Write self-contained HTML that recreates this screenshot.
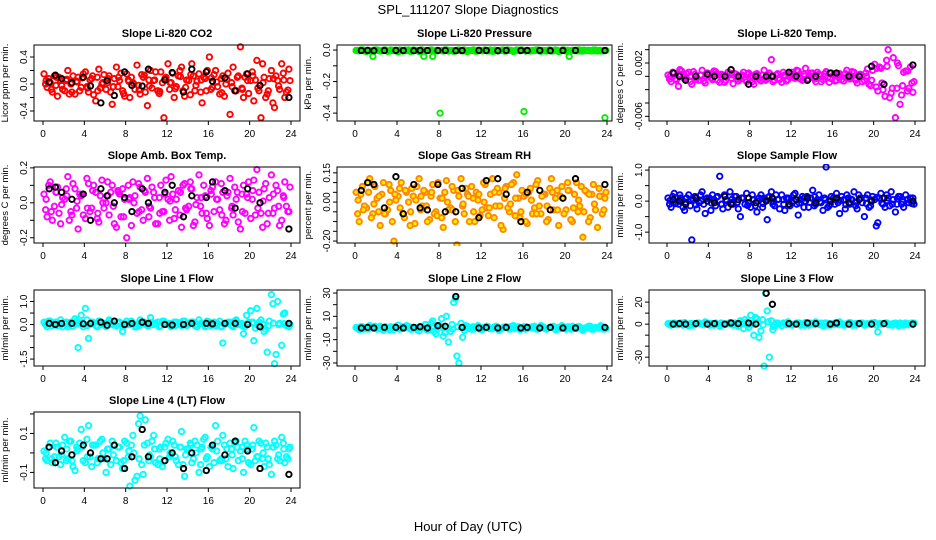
<!DOCTYPE html>
<html><head><meta charset="utf-8">
<style>
html,body{margin:0;padding:0;background:#fff;}
svg{display:block;font-family:"Liberation Sans",Arial,sans-serif;}
</style></head>
<body>
<svg id="chart" width="936" height="540" viewBox="0 0 936 540" xmlns="http://www.w3.org/2000/svg">
<text x="468" y="14" font-size="13" text-anchor="middle">SPL_111207  Slope Diagnostics</text>
<text x="468" y="531" font-size="13" text-anchor="middle">Hour of Day (UTC)</text>
</svg>
<script>
const xTicks = [0,4,8,12,16,20,24];
const hoursC = [0.1,0.4,0.7,1.1,1.4,1.7,2.1,2.4,2.7,3.1,3.4,3.7,4.1,4.4,4.7,5.1,5.4,5.7,6.1,6.4,6.7,7.1,7.4,7.7,8.1,8.4,8.7,9.1,9.4,9.7,10.1,10.4,10.7,11.1,11.4,11.7,12.1,12.4,12.7,13.1,13.4,13.7,14.1,14.4,14.7,15.1,15.4,15.7,16.1,16.4,16.7,17.1,17.4,17.7,18.1,18.4,18.7,19.1,19.4,19.7,20.1,20.4,20.7,21.1,21.4,21.7,22.1,22.4,22.7,23.1,23.4,23.8];
const hoursC2 = [0.25,0.55,0.9,1.25,1.55,1.9,2.25,2.55,2.9,3.25,3.55,3.9,4.25,4.55,4.9,5.25,5.55,5.9,6.25,6.55,6.9,7.25,7.55,7.9,8.25,8.55,8.9,9.25,9.55,9.9,10.25,10.55,10.9,11.25,11.55,11.9,12.25,12.55,12.9,13.25,13.55,13.9,14.25,14.55,14.9,15.25,15.55,15.9,16.25,16.55,16.9,17.25,17.55,17.9,18.25,18.55,18.9,19.25,19.55,19.9,20.25,20.55,20.9,21.25,21.55,21.9,22.25,22.55,22.9,23.25,23.55,23.9];
const hoursC3 = [0.3,0.8,1.3,1.8,2.3,2.8,3.3,3.8,4.3,4.8,5.3,5.8,6.3,6.8,7.3,7.8,8.3,8.8,9.3,9.8,10.3,10.8,11.3,11.8,12.3,12.8,13.3,13.8,14.3,14.8,15.3,15.8,16.3,16.8,17.3,17.8,18.3,18.8,19.3,19.8,20.3,20.8,21.3,21.8,22.3,22.8,23.3,23.7];
const hoursK = [0.6,1.2,1.8,2.8,3.9,4.6,5.6,6.2,6.9,7.9,8.6,9.6,10.2,11.8,12.5,13.6,14.4,15.8,16.4,17.6,18.6,19.8,21.0,23.8];

const co2C = [0.15,-0.05,0.02,0.12,-0.18,0.05,-0.1,0.2,0.0,-0.15,0.1,-0.05,0.18,-0.12,0.08,-0.25,0.22,0.0,-0.08,0.12,-0.3,0.25,0.05,-0.1,0.15,-0.2,0.02,0.28,-0.15,0.1,-0.32,0.2,0.05,-0.1,0.18,-0.5,0.3,0.02,-0.2,0.12,0.25,-0.18,0.05,0.3,-0.1,0.15,-0.28,0.08,0.4,-0.05,0.2,-0.15,0.12,0.0,-0.45,0.25,-0.1,0.55,-0.2,0.15,0.05,-0.25,0.35,-0.5,0.1,-0.15,0.2,-0.35,0.05,0.3,-0.2,0.22];
const co2C2 = [0.0,0.08,-0.12,-0.02,0.1,-0.08,0.05,-0.15,0.12,0.04,-0.1,0.15,-0.04,0.06,-0.16,0.1,-0.06,0.14,0.02,-0.12,0.08,-0.04,0.16,-0.18,0.06,0.1,-0.08,-0.02,0.14,-0.12,0.06,-0.06,0.18,-0.14,0.02,0.1,-0.08,0.16,-0.04,0.2,-0.1,0.06,-0.16,0.12,0.04,-0.12,0.1,0.2,-0.08,0.14,-0.04,0.08,-0.18,0.16,0.02,-0.1,0.12,-0.06,0.1,-0.14,0.18,0.06,-0.1,0.3,-0.2,0.08,-0.28,0.12,-0.08,0.16,-0.12,0.05];
const co2C3 = [0.05,-0.08,0.1,-0.02,0.07,-0.12,0.03,0.09,-0.06,0.12,-0.1,0.02,0.08,-0.04,0.1,-0.14,0.04,0.0,-0.09,0.13,-0.03,0.06,-0.11,0.08,0.02,-0.07,0.11,-0.05,0.14,-0.02,0.06,-0.1,0.09,0.03,-0.13,0.07,-0.04,0.1,-0.08,0.05,0.12,-0.06,0.02,-0.1,0.08,-0.03,0.06,-0.09];
const co2K = [0.03,0.13,0.08,0.02,0.1,-0.03,-0.28,0.05,-0.17,0.18,-0.02,-0.03,0.22,0.06,0.17,-0.12,0.22,0.18,0.04,0.09,-0.1,0.15,-0.02,-0.2];

const presC = [-0.002,-0.005,0,-0.01,-0.003,-0.04,0,-0.006,-0.002,-0.008,0,-0.004,-0.012,-0.002,-0.005,0,-0.007,-0.003,-0.01,0,-0.005,-0.002,-0.04,-0.004,-0.40,-0.006,0,-0.003,-0.008,-0.002,-0.005,0,-0.01,-0.003,-0.006,-0.002,-0.005,0,-0.004,-0.008,-0.002,-0.005,0,-0.006,-0.003,-0.009,0,-0.004,-0.39,-0.002,-0.006,-0.003,0,-0.008,-0.004,-0.002,-0.005,0,-0.01,-0.003,-0.006,-0.04,-0.002,-0.005,0,-0.007,-0.003,-0.005,0,-0.006,-0.004,-0.43];
const presC2 = [-0.004,0,-0.006,-0.002,-0.008,0,-0.003,-0.005,0,-0.007,-0.002,-0.004,0,-0.006,-0.003,-0.008,0,-0.002,-0.005,-0.04,-0.003,0,-0.006,-0.002,-0.004,0,-0.007,-0.003,-0.005,0,-0.002,-0.006,-0.004,0,-0.008,-0.003,-0.002,-0.005,0,-0.006,-0.004,-0.002,-0.007,0,-0.003,-0.005,-0.002,0,-0.006,-0.004,-0.003,0,-0.005,-0.002,-0.007,0,-0.004,-0.003,-0.006,0,-0.002,-0.005,-0.004,0,-0.006,-0.003,-0.002,-0.005,0,-0.004,-0.006,-0.002];
const presC3 = [-0.003,-0.001,-0.005,-0.002,-0.004,0,-0.006,-0.002,-0.003,-0.001,-0.005,-0.003,-0.002,-0.004,0,-0.006,-0.003,-0.001,-0.004,-0.002,-0.005,-0.003,0,-0.004,-0.002,-0.006,-0.001,-0.003,-0.005,-0.002,-0.004,0,-0.003,-0.005,-0.001,-0.004,-0.002,-0.006,-0.003,0,-0.004,-0.002,-0.005,-0.001,-0.003,-0.004,-0.002,-0.005];
const presK = [-0.003,-0.002,-0.004,-0.003,-0.002,-0.003,-0.004,-0.002,-0.003,-0.003,-0.002,-0.004,-0.003,-0.002,-0.003,-0.004,-0.002,-0.003,-0.003,-0.002,-0.004,-0.003,-0.002,-0.003];

const tempC = [0.0002,-0.0008,0.0005,-0.0015,0.0008,-0.0004,0.0006,-0.0012,0.0003,-0.0006,0.0009,-0.001,0.0004,-0.0005,0.0007,-0.0009,0.0002,-0.0006,0.0005,-0.0011,0.0003,-0.0004,0.0006,-0.0008,0.0001,-0.0012,0.0004,-0.0007,0.0009,-0.0003,0.0025,-0.0006,0.0004,-0.0009,0.0002,-0.0005,0.0006,-0.0003,0.0008,-0.0006,0.0012,-0.0004,0.0005,-0.0008,0.0003,-0.0005,0.0007,-0.0009,0.0002,-0.0006,0.0004,-0.0007,0.0009,-0.0004,0.0006,-0.001,0.0003,-0.0006,0.0011,-0.0014,0.0018,-0.0022,0.0012,-0.003,0.004,-0.0025,-0.0062,0.0016,-0.0028,0.0008,-0.0018,-0.0024];
const tempC2 = [-0.0004,0.0006,-0.0006,0.001,-0.0002,0.0004,-0.0008,0.0007,-0.0003,0.0002,-0.0007,0.0005,-0.0002,0.0008,-0.0006,0.0003,-0.0009,0.0006,-0.0003,0.0004,-0.0007,0.0002,-0.0005,0.0005,-0.0008,0.0003,-0.0004,0.0002,-0.0006,0.0005,-0.0008,0.0002,-0.0005,0.0006,-0.0007,0.0004,-0.0002,0.0009,-0.0004,0.0003,-0.0006,0.0005,-0.0003,0.0006,-0.0008,0.0004,-0.0002,0.0005,-0.0007,0.0003,-0.0005,0.0004,-0.0003,0.0007,-0.0006,0.0002,-0.0008,0.0005,-0.0012,0.0009,-0.0016,0.0014,-0.002,0.0024,-0.0032,0.0028,-0.0018,-0.0042,0.0006,-0.0022,0.0014,-0.0008];
const tempC3 = [0.0,-0.0004,0.0003,-0.0002,0.0001,-0.0005,0.0002,0.0,-0.0003,0.0004,-0.0001,0.0,0.0002,-0.0004,0.0001,0.0003,-0.0002,0.0,-0.0005,0.0002,0.0,-0.0003,0.0001,0.0,0.0003,-0.0002,0.0,0.0001,-0.0004,0.0002,0.0,-0.0003,0.0003,0.0,-0.0002,0.0001,-0.0004,0.0002,0.0,-0.0006,0.0012,-0.001,0.0015,-0.0018,0.002,-0.0014,0.0008,-0.001];
const tempK = [0.0005,0.0,-0.0006,0.0,0.0003,0.0,0.0,0.001,0.0,-0.0012,0.0,0.0,0.0,0.0006,0.0,-0.0006,0.0,0.0005,0.0005,0.0,0.0,0.0015,-0.0012,0.0017];

const ambC = [0.05,-0.08,0.12,-0.02,0.09,-0.12,0.02,0.15,-0.05,0.08,-0.15,0.04,-0.09,0.11,-0.03,0.06,-0.11,0.13,0.0,-0.07,0.1,-0.14,0.05,0.08,-0.2,0.03,0.12,-0.06,0.09,-0.1,0.14,-0.03,0.06,-0.12,0.1,-0.05,0.02,0.15,-0.09,0.07,-0.14,0.11,-0.02,0.08,-0.11,0.16,-0.06,0.04,-0.13,0.09,0.12,-0.04,0.06,-0.1,0.14,-0.07,0.02,-0.15,0.1,0.05,-0.09,0.13,0.19,-0.06,0.08,-0.12,0.16,-0.03,0.07,-0.1,0.12,-0.05];
const ambC2 = [-0.04,0.1,-0.1,0.06,-0.06,0.03,0.08,-0.1,0.11,-0.03,0.05,-0.07,0.14,-0.05,0.1,-0.09,0.04,-0.03,0.12,0.06,-0.12,0.07,-0.08,0.02,0.1,-0.13,0.04,0.11,-0.04,0.06,-0.08,0.09,-0.12,0.03,-0.05,0.13,-0.1,0.05,0.02,-0.07,0.1,-0.04,0.12,-0.13,0.03,-0.02,0.1,-0.09,0.07,-0.05,0.02,0.11,-0.12,0.06,-0.03,0.09,-0.11,0.05,-0.06,0.12,0.02,-0.07,0.06,-0.14,0.11,0.03,-0.06,0.1,-0.13,0.04,-0.02,0.09];
const ambC3 = [0.02,-0.05,0.06,-0.01,0.04,-0.07,0.01,0.05,-0.03,0.07,-0.06,0.0,0.04,-0.02,0.06,-0.08,0.02,0.0,-0.05,0.07,-0.02,0.03,-0.06,0.05,0.01,-0.04,0.06,-0.03,0.08,-0.01,0.03,-0.06,0.05,0.02,-0.07,0.04,-0.02,0.06,-0.05,0.03,0.07,-0.03,0.01,-0.06,0.05,-0.02,0.03,-0.05];
const ambK = [0.08,0.09,0.06,0.02,0.05,-0.1,0.08,0.04,0.0,0.03,-0.05,0.08,0.0,0.06,0.1,-0.08,0.04,0.03,0.12,0.07,-0.03,0.08,0.0,-0.15];

const rhC = [0.05,-0.1,0.08,-0.03,0.12,-0.06,0.02,-0.12,0.1,-0.04,0.06,-0.2,0.03,0.1,-0.08,0.0,0.07,-0.11,0.12,-0.02,0.05,-0.09,0.09,-0.05,0.02,-0.13,0.11,-0.03,0.06,-0.22,0.12,-0.06,0.04,0.08,-0.1,0.01,-0.04,0.09,-0.07,0.12,-0.02,0.05,-0.14,0.08,-0.05,0.1,0.14,-0.08,0.03,-0.11,0.07,-0.03,0.11,-0.06,0.04,-0.09,0.12,0.02,-0.12,0.08,-0.04,0.06,-0.1,0.1,-0.02,-0.18,0.05,-0.08,0.09,-0.13,0.03,0.02];
const rhC2 = [-0.06,0.04,-0.02,0.1,-0.08,0.08,-0.05,0.04,-0.06,0.09,-0.1,0.01,0.07,-0.06,0.05,-0.12,0.03,0.08,-0.04,0.06,-0.1,0.03,-0.06,0.1,-0.08,0.05,-0.04,0.08,-0.1,0.03,-0.02,0.07,-0.1,0.02,0.05,-0.07,0.1,-0.03,0.04,-0.08,0.07,-0.12,0.02,-0.03,0.09,-0.07,0.02,0.06,-0.1,0.05,-0.06,0.09,-0.02,0.04,-0.1,0.07,-0.04,0.06,0.03,-0.06,0.1,-0.09,0.04,-0.05,0.08,0.06,-0.1,0.04,-0.04,0.07,-0.06,0.05];
const rhC3 = [0.01,-0.04,0.05,-0.01,0.03,-0.06,0.0,0.04,-0.03,0.06,-0.05,0.01,0.03,-0.02,0.05,-0.07,0.02,0.0,-0.04,0.06,-0.01,0.03,-0.05,0.04,0.0,-0.03,0.05,-0.02,0.07,-0.01,0.02,-0.05,0.04,0.01,-0.06,0.03,-0.02,0.05,-0.04,0.02,0.06,-0.03,0.01,-0.05,0.04,-0.01,0.03,-0.04];
const rhK = [0.06,0.1,0.09,-0.03,0.13,-0.06,0.09,-0.03,-0.04,0.09,-0.05,-0.05,0.07,-0.08,0.11,0.12,0.04,-0.1,0.05,0.06,-0.04,0.02,0.12,0.09];

const flowC = [0.1,-0.2,0.25,-0.1,0.05,-0.3,0.2,-1.25,0.15,-0.05,0.3,-0.4,0.1,0.2,-0.15,0.8,-0.25,0.05,0.3,-0.1,0.15,-0.5,0.1,0.25,-0.2,0.05,-0.35,0.2,0.1,-0.6,0.3,-0.15,0.05,0.2,-0.3,0.1,-0.05,0.25,-0.45,0.15,0.0,-0.2,0.35,-0.1,0.2,-0.3,1.1,-0.15,0.1,0.25,-0.4,0.05,0.2,-0.1,0.3,-0.25,0.1,-0.5,0.2,-0.15,0.05,-0.7,0.25,-0.2,0.1,0.3,-0.35,0.15,-0.1,0.2,-0.05,0.1];
const flowC2 = [-0.1,0.15,-0.05,0.2,-0.2,0.1,-0.15,0.05,-0.25,0.2,-0.1,0.1,-0.3,0.05,0.15,-0.1,0.2,-0.2,-0.05,0.15,-0.25,0.1,-0.1,-0.05,0.2,-0.15,0.1,-0.2,0.05,0.15,-0.1,0.2,-0.25,0.05,0.1,-0.15,0.2,-0.1,0.05,-0.2,0.15,0.1,-0.15,0.05,-0.05,0.1,-0.2,0.15,-0.1,-0.05,0.15,-0.25,0.1,0.05,-0.15,0.2,-0.05,0.1,-0.2,0.15,-0.8,0.1,-0.1,0.2,-0.15,0.05,-0.1,0.15,-0.2,0.05,0.1,-0.1];
const flowC3 = [0.02,-0.08,0.1,-0.03,0.06,-0.12,0.0,0.08,-0.06,0.12,-0.1,0.02,0.06,-0.04,0.1,-0.14,0.04,0.0,-0.08,0.12,-0.02,0.06,-0.1,0.08,0.0,-0.06,0.1,-0.04,0.14,-0.02,0.04,-0.1,0.08,0.02,-0.12,0.06,-0.04,0.1,-0.08,0.04,0.12,-0.06,0.02,-0.1,0.08,-0.02,0.06,-0.08];
const flowK = [0.05,0.0,-0.1,0.1,0.0,-0.05,0.15,-0.1,0.05,0.1,-0.05,0.0,0.1,-0.1,0.05,0.1,-0.05,0.0,0.1,-0.05,0.05,0.0,0.1,0.0];

const line1C = [0.1,-0.1,0.15,0.0,-0.05,0.2,0.05,-0.1,0.1,0.25,-1.0,0.4,0.7,-0.6,0.1,-0.05,0.15,0.0,-0.1,0.2,0.05,-0.05,0.1,-0.3,0.15,0.0,0.05,-0.1,0.2,0.05,-0.05,0.3,0.0,0.1,-0.05,0.15,0.0,-0.1,0.1,0.05,-0.05,0.15,0.0,0.1,-0.05,0.2,0.05,-0.1,0.1,0.0,-0.05,0.15,-0.8,0.05,0.1,-0.1,0.2,0.0,-0.4,0.4,0.6,-0.7,0.7,0.2,-0.3,-1.2,1.3,-1.7,1.0,-0.9,0.5,-0.1];
const line1C2 = [0.0,0.15,-0.05,0.1,0.05,-0.1,0.1,0.0,-0.05,0.15,0.05,-0.1,0.2,0.0,0.05,-0.1,0.1,0.05,-0.05,0.15,0.0,0.1,-0.05,0.05,0.0,0.15,-0.1,0.05,0.1,0.0,-0.05,0.1,0.05,-0.1,0.15,0.0,0.05,-0.05,0.1,0.0,0.15,-0.05,0.05,0.1,-0.1,0.05,0.0,0.15,-0.05,0.1,0.05,-0.1,0.0,0.1,-0.05,0.15,0.0,0.05,-0.1,0.1,0.05,-0.15,0.1,0.0,-0.2,0.15,0.9,-1.3,0.05,0.45,-0.05,0.0];
const line1C3 = [0.05,-0.05,0.1,0.0,0.05,-0.08,0.02,0.08,-0.04,0.1,-0.06,0.02,0.06,-0.02,0.08,-0.08,0.04,0.0,-0.05,0.1,0.0,0.05,-0.06,0.06,0.02,-0.04,0.08,-0.02,0.1,0.0,0.04,-0.06,0.06,0.02,-0.08,0.05,-0.02,0.08,-0.05,0.04,0.1,-0.04,0.02,-0.06,0.06,0.0,0.04,-0.05];
const line1K = [0.05,0.0,0.05,0.05,0.03,0.05,0.1,-0.03,0.15,0.0,0.05,0.1,0.05,0.0,-0.02,0.0,0.05,0.05,0.03,0.05,0.05,0.0,-0.1,0.05];

const line2C = [0.5,-1.5,1.0,-0.5,2.0,0.0,-1.0,1.5,-2.0,0.5,1.0,-1.5,2.5,-0.5,0.0,1.5,-1.0,0.5,-2.5,1.0,3.0,-1.5,6.0,-5.0,2.0,-7.0,10.0,-3.0,22.0,-24.0,4.0,-2.0,1.5,-1.0,0.5,2.0,-1.5,0.0,1.0,-0.5,1.5,-2.0,0.5,1.0,-1.0,2.0,0.0,-1.5,1.0,-0.5,0.5,1.5,-1.0,2.0,-0.5,0.0,1.0,-1.5,0.5,2.0,-1.0,0.0,1.5,-0.5,1.0,-2.0,0.5,1.5,-1.0,0.0,2.0,-0.5];
const line2C2 = [-0.5,1.0,0.0,-1.0,0.5,1.5,-0.5,0.0,1.0,-1.5,0.0,0.5,-1.0,1.0,2.0,-0.5,0.5,-1.5,1.0,0.0,-2.0,4.0,-3.0,1.0,8.0,-4.0,-12.0,3.0,25.0,-30.0,-8.0,2.0,-0.5,1.0,0.0,-1.0,0.5,1.5,-0.5,0.0,1.0,-1.0,0.5,0.0,1.5,-0.5,1.0,0.0,-1.0,0.5,1.0,-0.5,0.0,1.0,-1.0,0.5,1.5,0.0,-0.5,1.0,0.0,-1.0,0.5,1.0,-0.5,0.0,1.5,-1.0,0.5,0.0,1.0,-0.5];
const line2C3 = [0.0,-1.0,1.0,0.0,0.5,-1.0,0.0,1.0,-0.5,1.0,-1.0,0.0,0.5,-0.5,1.0,-1.0,0.5,0.0,-1.0,1.0,0.0,0.5,-1.0,1.0,0.0,-0.5,1.0,-0.5,1.0,0.0,0.5,-1.0,1.0,0.0,-1.0,0.5,-0.5,1.0,-1.0,0.5,1.0,-0.5,0.0,-1.0,1.0,0.0,0.5,-1.0];
const line2K = [0.0,0.5,0.0,0.5,0.5,0.0,0.5,1.0,0.0,2.0,1.5,27.0,0.5,0.0,0.5,0.0,0.5,0.0,0.5,0.0,0.5,0.0,0.0,0.5];

const line3C = [0.5,-1.0,1.0,-0.5,0.0,1.5,-1.5,0.5,-0.5,1.0,0.0,2.0,-1.0,0.5,1.0,-2.0,0.5,0.0,1.5,-1.0,0.5,3.0,-4.0,2.0,8.0,-10.0,5.0,-6.0,-38.0,12.0,3.0,-2.0,1.0,-1.5,0.5,2.0,-1.0,0.0,1.0,-0.5,1.5,-1.0,0.5,2.0,0.0,-1.5,1.0,0.5,-0.5,1.0,2.0,-1.0,0.0,1.5,-0.5,0.5,1.0,-1.0,0.5,0.0,1.5,-7.0,0.5,1.0,-0.5,0.0,1.0,-1.5,0.5,1.0,0.0,-0.5];
const line3C2 = [-0.5,0.5,0.0,1.0,-1.0,0.0,0.5,-1.0,1.0,0.0,-0.5,1.0,0.5,-1.0,0.0,1.0,-0.5,0.5,0.0,1.0,-2.0,1.5,4.0,-3.0,1.0,6.0,-12.0,4.0,28.0,-30.0,-5.0,1.0,0.0,1.0,-0.5,0.5,0.0,1.0,-1.0,0.5,0.0,1.0,-0.5,0.0,1.0,0.5,-1.0,0.0,1.0,-0.5,0.5,0.0,1.0,-1.0,0.5,0.0,1.0,-0.5,0.0,1.0,-1.0,0.5,0.0,1.0,-0.5,0.5,0.0,1.0,-1.0,0.5,0.0,1.0];
const line3C3 = [0.5,-0.5,1.0,0.0,-1.0,0.5,0.0,1.0,-0.5,0.5,-1.0,0.0,1.0,-0.5,0.5,-1.0,0.0,1.0,-0.5,2.0,-2.0,0.5,1.0,-0.5,0.0,1.0,-1.0,0.5,0.0,-0.5,1.0,-1.0,0.5,0.0,-0.5,1.0,-1.0,0.5,0.0,1.0,-0.5,0.0,1.0,-1.0,0.5,0.0,-0.5,1.0];
const line3K = [0.0,0.5,0.0,0.5,0.0,0.5,0.0,1.0,0.5,1.0,0.0,28.0,18.0,0.5,0.0,1.0,0.5,0.0,1.0,0.0,0.5,0.0,0.5,0.0];

const line4C = [0.01,-0.04,0.05,-0.02,0.03,-0.06,0.08,-0.03,0.06,-0.09,0.02,0.12,-0.05,0.14,-0.07,0.04,-0.03,0.07,-0.1,0.02,0.06,-0.04,0.03,-0.08,0.05,-0.17,0.09,-0.12,0.19,-0.11,0.05,-0.02,0.09,-0.06,0.03,-0.04,0.07,-0.01,0.04,-0.06,0.11,-0.12,0.02,-0.05,0.06,-0.1,0.03,0.08,-0.07,0.02,0.14,-0.04,0.09,-0.03,0.05,-0.08,0.06,0.01,-0.1,0.04,-0.06,0.13,-0.02,0.05,-0.07,0.03,-0.11,0.06,-0.03,0.08,-0.05,0.02];
const line4C2 = [-0.03,0.03,-0.05,0.05,-0.02,0.04,-0.04,0.06,-0.07,0.03,0.05,-0.04,0.07,-0.02,0.04,-0.05,0.06,-0.03,0.02,-0.06,0.04,0.03,-0.05,0.06,-0.02,0.04,-0.14,0.15,-0.06,0.17,-0.04,0.06,-0.05,0.02,-0.07,0.05,-0.02,0.06,-0.04,0.03,-0.06,0.02,0.05,-0.03,0.04,-0.06,0.07,-0.02,0.03,-0.05,0.06,-0.03,0.04,-0.07,0.02,0.05,-0.04,0.03,0.06,-0.05,0.02,-0.04,0.06,-0.03,0.05,-0.06,0.03,0.04,-0.04,0.05,-0.02,0.03];
const line4C3 = [0.0,-0.03,0.03,-0.01,0.02,-0.04,0.01,0.03,-0.02,0.04,-0.03,0.0,0.02,-0.01,0.03,-0.04,0.01,0.0,-0.03,0.04,-0.01,0.02,-0.03,0.03,0.0,-0.02,0.03,-0.01,0.04,0.0,0.02,-0.03,0.03,0.01,-0.04,0.02,-0.01,0.03,-0.03,0.02,0.04,-0.02,0.0,-0.03,0.03,-0.01,0.02,-0.03];
const line4K = [0.03,-0.05,0.01,-0.01,0.04,0.0,-0.03,-0.03,0.04,-0.08,-0.02,0.12,-0.02,-0.04,0.0,-0.08,0.0,-0.09,0.04,-0.01,0.06,0.01,-0.08,-0.11];

const panels = [
 {name:'co2', title:'Slope Li-820 CO2', ylab:'Licor ppm per min.', row:0,col:0, dom:[-0.548,0.578], ticks:[-0.4,-0.2,0,0.2,0.4], labels:['-0.4','','0.0','','0.4'], color:'#ff0000', c:co2C, c2:co2C2, c3:co2C3, k:co2K},
 {name:'pressure', title:'Slope Li-820 Pressure', ylab:'kPa per min.', row:0,col:1, dom:[-0.45,0.032], ticks:[-0.4,-0.3,-0.2,-0.1,0], labels:['-0.4','','-0.2','','0.0'], color:'#00ee00', c:presC, c2:presC2, c3:presC3, k:presK},
 {name:'temp', title:'Slope Li-820 Temp.', ylab:'degrees C per min.', row:0,col:2, dom:[-0.0067,0.0047], ticks:[-0.006,-0.004,-0.002,0,0.002,0.004], labels:['-0.006','','','','0.002',''], color:'#ff00ff', c:tempC, c2:tempC2, c3:tempC3, k:tempK},
 {name:'amb-box-temp', title:'Slope Amb. Box Temp.', ylab:'degrees C per min.', row:1,col:0, dom:[-0.23,0.205], ticks:[-0.2,-0.1,0,0.1,0.2], labels:['-0.2','','0.0','','0.2'], color:'#ff00ff', c:ambC, c2:ambC2, c3:ambC3, k:ambK},
 {name:'gas-stream-rh', title:'Slope Gas Stream RH', ylab:'percent per min.', row:1,col:1, dom:[-0.21,0.18], ticks:[-0.2,-0.15,-0.1,-0.05,0,0.05,0.1,0.15], labels:['-0.20','','','','0.00','','','0.15'], color:'#ff8800', fill:'#ffee00', c:rhC, c2:rhC2, c3:rhC3, k:rhK},
 {name:'sample-flow', title:'Slope Sample Flow', ylab:'ml/min per min.', row:1,col:2, dom:[-1.35,1.1], ticks:[-1,-0.5,0,0.5,1], labels:['-1.0','','0.0','','1.0'], color:'#0000ff', c:flowC, c2:flowC2, c3:flowC3, k:flowK},
 {name:'line1-flow', title:'Slope Line 1 Flow', ylab:'ml/min per min.', row:2,col:0, dom:[-1.8,1.5], ticks:[-1.5,-1,-0.5,0,0.5,1], labels:['-1.5','','','0.0','','1.0'], color:'#00ffff', c:line1C, c2:line1C2, c3:line1C3, k:line1K},
 {name:'line2-flow', title:'Slope Line 2 Flow', ylab:'ml/min per min.', row:2,col:1, dom:[-32.6,32.6], ticks:[-30,-20,-10,0,10,20,30], labels:['-30','','-10','','10','','30'], color:'#00ffff', c:line2C, c2:line2C2, c3:line2C3, k:line2K},
 {name:'line3-flow', title:'Slope Line 3 Flow', ylab:'ml/min per min.', row:2,col:2, dom:[-38,31], ticks:[-30,-20,-10,0,10,20], labels:['-30','','','0','','20'], color:'#00ffff', c:line3C, c2:line3C2, c3:line3C3, k:line3K},
 {name:'line4-flow', title:'Slope Line 4 (LT) Flow', ylab:'ml/min per min.', row:3,col:0, dom:[-0.18,0.21], ticks:[-0.1,0,0.1,0.2], labels:['-0.1','','0.1',''], color:'#00ffff', c:line4C, c2:line4C2, c3:line4C3, k:line4K}
];

const rowTop = [45,167,290,412];
const boxH = 76;
const colL = [34,337,649], colR = [300,612,925], colX0 = [43,355,667], colX24 = [291,607,915];
const NS = 'http://www.w3.org/2000/svg';
const svg = document.getElementById('chart');

function mk(tag, attrs, parent){
  const e = document.createElementNS(NS, tag);
  for (const k in attrs) e.setAttribute(k, attrs[k]);
  (parent||svg).appendChild(e);
  return e;
}

panels.forEach(p => {
  const g = mk('g', {});
  
  
  const top = rowTop[p.row], bot = top + boxH, L = colL[p.col], R = colR[p.col];
  const xs = h => colX0[p.col] + (h/24)*(colX24[p.col]-colX0[p.col]);
  const ys = v => bot - (v - p.dom[0])/(p.dom[1]-p.dom[0])*boxH;

  const clip = mk('clipPath', {id:'clip-'+p.name}, g);
  mk('rect', {x:L-3, y:top-3, width:R-L+6, height:boxH+6}, clip);

  const t = mk('text', {x:(L+R)/2, y:top-8, 'font-size':11, 'font-weight':'bold', 'text-anchor':'middle'}, g);
  t.textContent = p.title;
  
  

  const yl = mk('text', {x:0, y:0, 'font-size':9.5, 'text-anchor':'middle', transform:`translate(${L-26},${top+boxH/2}) rotate(-90)`}, g);
  yl.textContent = p.ylab;
  
  

  const pg = mk('g', {'clip-path':`url(#clip-${p.name})`}, g);
  
  
  const drawSeries = (hrs, vals, stroke, fill, sw) => {
    const n = Math.min(hrs.length, vals.length);
    for (let i=0;i<n;i++){
      const c = mk('circle', {cx:xs(hrs[i]).toFixed(1), cy:ys(vals[i]).toFixed(1), r:2.7, fill:fill||'none', stroke:stroke, 'stroke-width':sw}, pg);
      
      
    }
  };
  drawSeries(hoursC, p.c, p.color, p.fill, 1.9);
  drawSeries(hoursC2, p.c2, p.color, p.fill, 1.9);
  drawSeries(hoursC3, p.c3, p.color, p.fill, 1.9);
  drawSeries(hoursK, p.k, '#000', null, 1.9);

  const box = mk('rect', {x:L, y:top, width:R-L, height:boxH, fill:'none', stroke:'#000', 'stroke-width':1}, g);
  
  

  const xa = mk('g', {}, g);
  
  
  mk('line', {x1:xs(0), x2:xs(24), y1:bot, y2:bot, stroke:'#000'}, xa);
  xTicks.forEach(v => {
    mk('line', {x1:xs(v), x2:xs(v), y1:bot, y2:bot+4, stroke:'#000'}, xa);
    const tx = mk('text', {x:xs(v), y:bot+16, 'font-size':10, 'text-anchor':'middle'}, xa);
    tx.textContent = v;
    
    
  });
  const ya = mk('g', {}, g);
  
  
  p.ticks.forEach((v,i) => {
    const y = ys(v);
    mk('line', {x1:L-4, x2:L, y1:y, y2:y, stroke:'#000'}, ya);
    if (p.labels[i]) {
      const tl = mk('text', {x:0, y:0, 'font-size':10, 'text-anchor':'middle', transform:`translate(${L-7},${y}) rotate(-90)`}, ya);
      tl.textContent = p.labels[i];
      
      
    }
  });
});
</script>
</body></html>
